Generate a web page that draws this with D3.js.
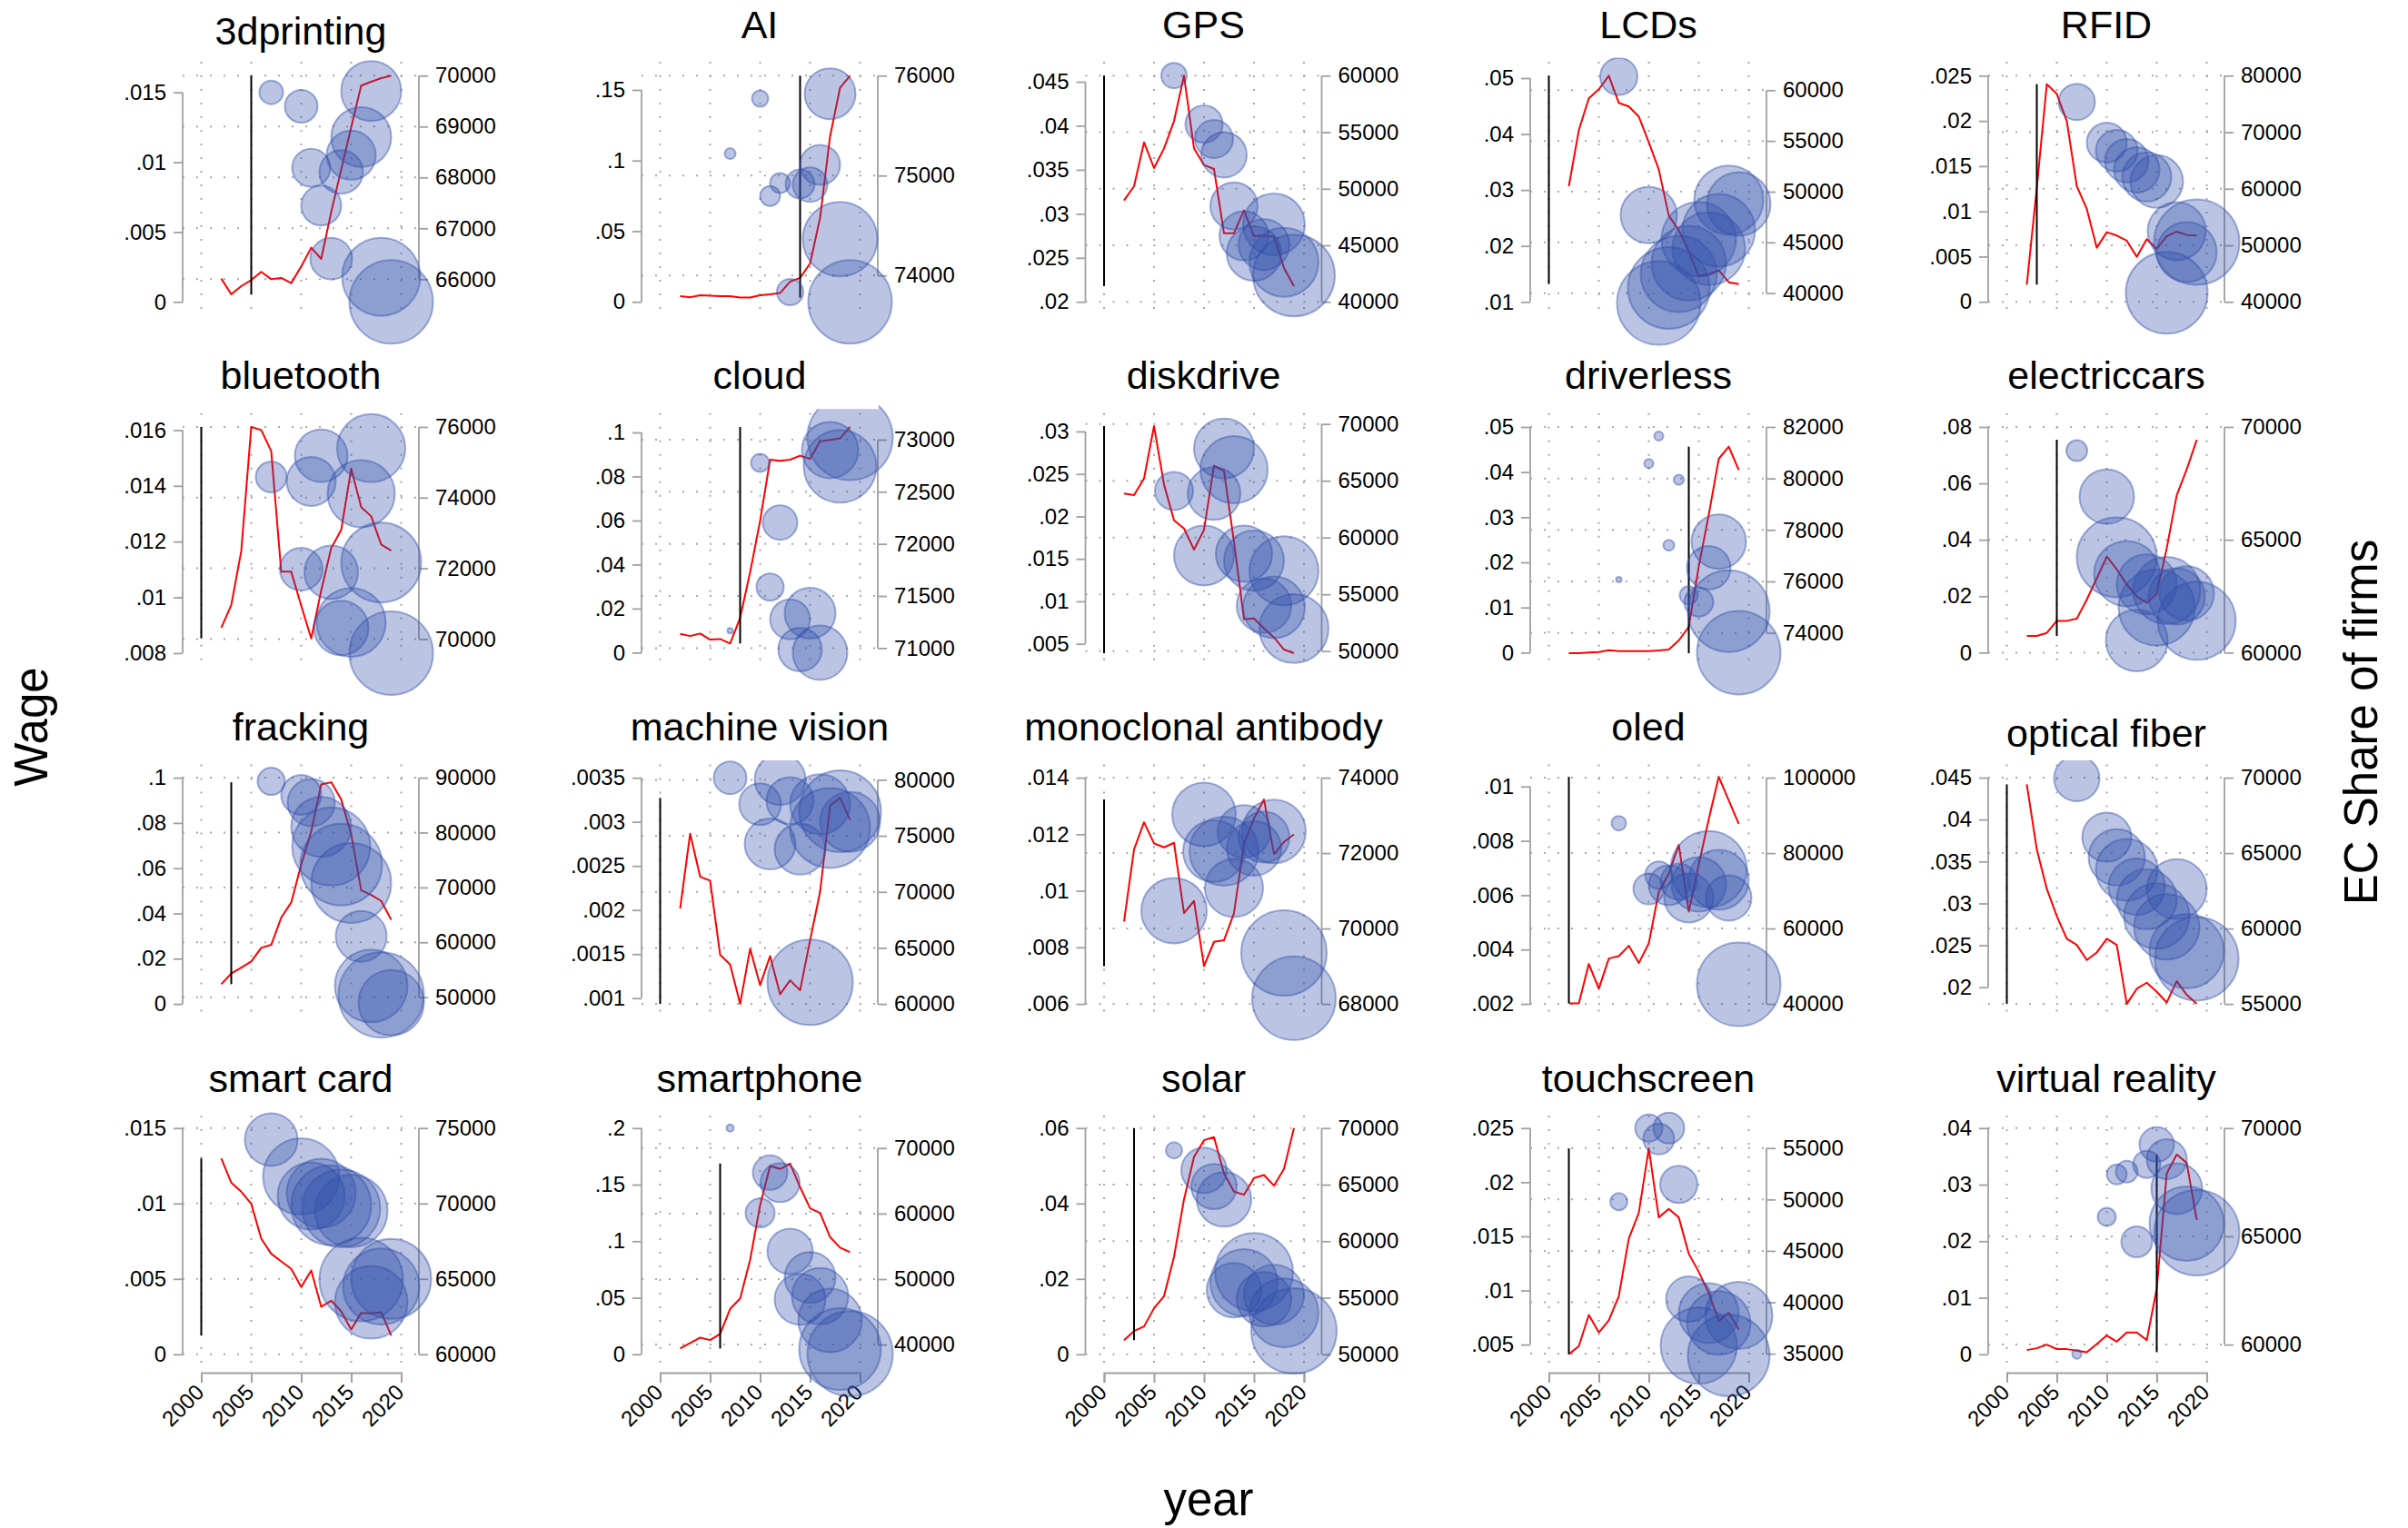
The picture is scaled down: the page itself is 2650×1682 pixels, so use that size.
<!DOCTYPE html>
<html>
<head>
<meta charset="utf-8">
<script src="https://cdn.jsdelivr.net/npm/d3@7"></script>
<style>
  body { margin: 0; background: #fff; }
  text { font-family: "Liberation Sans", Arial, Helvetica, sans-serif; }
</style>
</head>
<body>
<svg id="chart"></svg>
<script>
// ---- data ----
const techs = ['3dprinting', 'AI', 'GPS', 'LCDs', 'RFID',
  'bluetooth', 'cloud', 'diskdrive', 'driverless', 'electriccars',
  'fracking', 'machine vision', 'monoclonal antibody', 'oled', 'optical fiber',
  'smart card', 'smartphone', 'solar', 'touchscreen', 'virtual reality'];

const lineYears = [2002, 2003, 2004, 2005, 2006, 2007, 2008, 2009, 2010,
  2011, 2012, 2013, 2014, 2015, 2016, 2017, 2018, 2019];
const bubbleYears = [2007, 2010, 2011, 2012, 2013, 2014, 2015, 2016, 2017, 2018, 2019];
const xTicks = [2000, 2005, 2010, 2015, 2020];

// year of the vertical marker line, per technology
const eventYear = [2005, 2014, 2000, 2000, 2003, 2000, 2008, 2000, 2014, 2005,
  2003, 2000, 2000, 2002, 2000, 2000, 2006, 2003, 2002, 2015];

// red line (right axis), 2002-2019
const lineValues = [
  [66012, 65703, 65863, 65982, 66143, 66000, 66024, 65923, 66250, 66619, 66399, 67321, 68155, 68988, 69804, 69881, 69952, 70000],
  [73794, 73782, 73803, 73797, 73794, 73794, 73779, 73779, 73803, 73812, 73824, 73939, 73976, 74121, 74576, 75394, 75879, 76000],
  [48968, 50226, 54108, 51832, 53572, 55982, 59998, 53572, 52100, 51752, 46077, 46077, 48085, 45809, 45863, 45756, 42998, 41392],
  [50537, 56059, 59194, 60089, 61432, 58746, 58388, 57403, 54866, 52179, 47642, 46209, 44119, 41672, 41881, 42239, 41075, 40896],
  [43052, 60188, 78502, 76789, 71969, 60456, 56440, 49585, 52317, 51727, 50817, 47979, 51085, 49371, 51620, 52424, 51835, 51781],
  [70317, 70960, 72486, 76000, 75914, 75314, 71903, 71903, 70943, 70017, 71371, 72571, 73086, 74817, 73729, 73471, 72674, 72503],
  [71137, 71116, 71140, 71081, 71087, 71044, 71291, 71727, 72221, 72808, 72797, 72808, 72846, 72817, 72985, 72997, 73012, 73122],
  [63867, 63733, 65200, 69813, 64667, 61520, 60800, 58933, 60667, 66320, 65867, 59600, 52800, 52880, 52000, 51200, 50133, 49813],
  [73212, 73212, 73235, 73259, 73329, 73294, 73294, 73294, 73294, 73318, 73353, 73706, 74235, 76588, 78588, 80765, 81235, 80329],
  [60738, 60738, 60872, 61409, 61409, 61503, 62349, 63288, 64254, 63691, 63020, 62483, 62214, 62617, 64630, 66978, 68119, 69434],
  [52372, 54303, 55407, 56510, 58993, 59544, 64510, 67268, 74164, 80233, 88785, 89171, 86026, 79681, 69475, 68647, 67544, 64124],
  [68514, 75191, 71353, 71001, 64379, 63514, 60000, 64919, 61676, 64271, 60865, 62108, 61216, 65676, 70001, 77705, 78380, 76434],
  [70185, 72096, 72819, 72257, 72153, 72273, 70410, 70731, 69004, 69647, 69687, 70410, 72257, 72916, 73422, 71976, 72297, 72498],
  [40161, 40161, 50602, 44016, 52048, 52691, 55421, 50843, 56064, 69718, 74538, 82168, 64498, 76947, 88995, 100240, 93975, 87790],
  [69558, 65241, 62630, 60823, 59317, 58916, 57912, 58414, 59317, 58916, 55000, 56004, 56406, 55803, 55100, 56506, 55602, 55000],
  [72992, 71385, 70783, 69980, 67671, 66667, 66164, 65663, 64458, 65562, 63153, 63554, 62851, 61647, 62751, 62711, 62791, 61245],
  [39399, 40231, 41063, 40693, 41618, 45455, 47027, 52944, 61266, 67276, 66813, 67646, 64040, 60804, 60110, 56412, 54794, 54100],
  [51258, 52061, 52463, 54069, 55140, 58620, 63706, 67454, 68926, 69194, 65982, 64375, 64108, 65580, 65848, 64911, 66383, 69997],
  [34941, 35736, 38770, 37062, 38240, 40596, 46193, 48697, 54971, 48255, 49080, 48255, 44720, 42953, 40891, 38181, 38976, 37356],
  [59748, 59832, 60000, 59790, 59790, 59720, 59650, 60028, 60420, 60140, 60559, 60559, 60210, 62587, 67902, 68783, 68392, 65762]
];

// bubbles (left axis), at bubbleYears
const bubbleValues = [
  [.0150, .0140, .0096, .0069, .0031, .0093, .0105, .0118, .0151, .0018, .0000],
  [.1049, .1438, .0749, .0841, .0069, .0835, .0830, .0970, .1473, .0444, .0000],
  [.0457, .0402, .0385, .0367, .0309, .0275, .0255, .0265, .0288, .0245, .0230],
  [.0503, .0255, .0098, .0125, .0150, .0169, .0212, .0195, .0228, .0282, .0275],
  [.0221, .0176, .0167, .0156, .0146, .0138, .0133, .0010, .0078, .0055, .0066],
  [.01432, .01101, .01416, .01508, .01090, .0089, .0091, .01372, .01535, .01125, .0080],
  [.0100, .0862, .0298, .0591, .0151, .0014, .0179, .0000, .0920, .0846, .0977],
  [.0230, .0154, .0227, .0280, .0255, .0156, .0148, .0095, .0093, .0136, .0068],
  [.0162, .0419, .0480, .0238, .0383, .0127, .0112, .0188, .0246, .0092, .0000],
  [.0716, .0553, .0338, .0280, .0043, .0242, .0160, .0220, .0199, .0210, .0113],
  [.0984, .0924, .0890, .0783, .0696, .0616, .0535, .0299, .0080, .0040, .0005],
  [.00350, .00320, .00275, .00348, .00324, .00269, .00118, .00320, .00293, .00312, .00300],
  [.0093, .0127, .0114, .0114, .0101, .0121, .0115, .0119, .0121, .0078, .0062],
  [.00865, .00623, .00674, .00637, .00650, .00590, .00640, .00696, .00657, .00590, .00272],
  [.0449, .0379, .0355, .0340, .0320, .0305, .0285, .0272, .0317, .0243, .0234],
  [.01424, .01179, .01050, .01068, .00988, .00968, .0095, .00496, .00345, .0045, .0050],
  [.2000, .1250, .1606, .1518, .0910, .0487, .0680, .0514, .0300, .0046, .0005],
  [.0541, .0488, .0445, .0411, .0170, .0190, .0218, .0146, .0158, .0110, .0062],
  [.0182, .0250, .0240, .0250, .0198, .0092, .0049, .0079, .0070, .0040, .0077],
  [.0000, .0243, .0318, .0323, .0199, .0336, .0371, .0345, .0293, .0231, .0215]
];

// bubble weights
const bubbleWeights = [
  [18.8, 36, 49, 53.8, 58.8, 64, 81, 121, 121, 205.4, 235.1],
  [4, 9, 13.4, 13.4, 23.4, 28.4, 40.1, 53.8, 87.1, 186.8, 235.1],
  [21.8, 46.7, 49, 69.4, 75.1, 81, 100, 87.1, 128.4, 160.4, 225],
  [46.7, 106.8, 235.1, 225, 196, 186.8, 186.8, 177.8, 177.8, 160.4, 136.1],
  [44.4, 53.8, 58.8, 64, 69.4, 81, 93.4, 225, 113.8, 121, 245.4],
  [32.1, 61.4, 81, 93.4, 96.7, 100, 160.4, 152.1, 156.3, 215.1, 235.1],
  [1, 11.1, 25, 40.1, 53.8, 64, 87.1, 100, 106.8, 177.8, 245.4],
  [49, 121, 93.4, 121, 152.1, 106.8, 121, 100, 128.4, 160.4, 160.4],
  [1, 2.8, 2.8, 4, 3.4, 11.1, 28.4, 64, 100, 225, 235.1],
  [14.7, 100, 215.1, 144, 128.4, 121, 196, 152.1, 106.8, 100, 205.4],
  [25, 53.8, 75.1, 121, 205.4, 225, 215.1, 87.1, 177.8, 245.4, 144],
  [36, 58.8, 87.1, 87.1, 75.1, 87.1, 245.4, 121, 215.1, 225, 121],
  [144, 136.1, 128.4, 160.4, 113.8, 93.4, 100, 87.1, 136.1, 245.4, 235.1],
  [7.1, 32.1, 25, 53.8, 44.4, 81, 100, 196, 121, 69.4, 235.1],
  [69.4, 81, 106.8, 128.4, 106.8, 121, 144, 144, 121, 186.8, 235.1],
  [93.4, 196, 152.1, 160.4, 215.1, 205.4, 177.8, 235.1, 177.8, 196, 215.1],
  [1.8, 28.4, 40.1, 51.4, 69.4, 87.1, 87.1, 106.8, 136.1, 225, 245.4],
  [9, 69.4, 69.4, 100, 100, 152.1, 205.4, 100, 121, 160.4, 245.4],
  [10, 25, 32.1, 32.1, 46.7, 69.4, 196, 121, 136.1, 225, 152.1],
  [2.8, 11.1, 13.4, 16, 32.1, 25, 40.1, 53.8, 87.1, 186.8, 245.4]
];

// axis ticks and ranges
const leftTicks = [
  [0, .005, .01, .015], [0, .05, .1, .15], [.02, .025, .03, .035, .04, .045],
  [.01, .02, .03, .04, .05], [0, .005, .01, .015, .02, .025],
  [.008, .01, .012, .014, .016], [0, .02, .04, .06, .08, .1], [.005, .01, .015, .02, .025, .03],
  [0, .01, .02, .03, .04, .05], [0, .02, .04, .06, .08],
  [0, .02, .04, .06, .08, .1], [.001, .0015, .002, .0025, .003, .0035], [.006, .008, .01, .012, .014],
  [.002, .004, .006, .008, .01], [.02, .025, .03, .035, .04, .045],
  [0, .005, .01, .015], [0, .05, .1, .15, .2], [0, .02, .04, .06],
  [.005, .01, .015, .02, .025], [0, .01, .02, .03, .04]
];
const rightTicks = [
  [66000, 67000, 68000, 69000, 70000], [74000, 75000, 76000], [40000, 45000, 50000, 55000, 60000],
  [40000, 45000, 50000, 55000, 60000], [40000, 50000, 60000, 70000, 80000],
  [70000, 72000, 74000, 76000], [71000, 71500, 72000, 72500, 73000], [50000, 55000, 60000, 65000, 70000],
  [74000, 76000, 78000, 80000, 82000], [60000, 65000, 70000],
  [50000, 60000, 70000, 80000, 90000], [60000, 65000, 70000, 75000, 80000], [68000, 70000, 72000, 74000],
  [40000, 60000, 80000, 100000], [55000, 60000, 65000, 70000],
  [60000, 65000, 70000, 75000], [40000, 50000, 60000, 70000], [50000, 55000, 60000, 65000, 70000],
  [35000, 40000, 45000, 50000, 55000], [60000, 65000, 70000]
];
const leftRange = [
  [-0.00115, 0.01719], [-0.0114, 0.1699], [0.01817, 0.04727], [0.00713, 0.05292], [-0.00178, 0.02654],
  [0.00742, 0.01661], [-0.00755, 0.1088], [0.002005, 0.03217], [-0.00368, 0.05308], [-0.0059, 0.08493],
  [-0.00735, 0.1059], [0.000746, 0.003652], [0.005412, 0.014472], [0.001388, 0.010816], [0.01603, 0.04659],
  [-0.00116, 0.015825], [-0.0155, 0.211], [-0.00465, 0.0633], [0.002483, 0.02615], [-0.0031, 0.0422]
];
const rightRange = [
  [65238, 70273], [73575, 76139], [38578, 61229], [37556, 62802], [37157, 82458],
  [69144, 76393], [70797, 73255], [48400, 70960], [72588, 82540], [59263, 70616],
  [45745, 92434], [58517, 81378], [67559, 74354], [35590, 103542], [53898, 70886],
  [58837, 75825], [35839, 74951], [48450, 71100], [33233, 58154], [58742, 70575]
];

// ---- layout ----
const W = 2650, H = 1682;
const colLeft = [201, 706, 1194.5, 1684, 2188];
const plotW = 260, plotH = 282;
const rowTop0 = 68, rowStep = 386.7;
const titleDrop = { '3dprinting': 7, 'optical fiber': 7 };
const gridColor = '#a8a8a8', axisColor = '#a0a0a0';

const svg = d3.select('#chart').attr('width', W).attr('height', H);
svg.append('rect').attr('width', W).attr('height', H).attr('fill', '#fff');

const rScale = d3.scaleSqrt().domain([0, 100]).range([0, 30]);
const leftFmt = d => d === 0 ? '0' : String(+d.toPrecision(6)).replace(/^0\./, '.');

techs.forEach(function(name, i) {
  const col = i % 5, row = Math.floor(i / 5);
  const left = colLeft[col], top = rowTop0 + rowStep * row;
  const right = left + plotW, bottom = top + plotH;

  const x = d3.scaleLinear().domain([2000, 2020]).range([left + 20.5, left + 240.5]);
  const yL = d3.scaleLinear().domain(leftRange[i]).range([bottom, top]);
  const yR = d3.scaleLinear().domain(rightRange[i]).range([bottom, top]);

  const g = svg.append('g');

  // grid
  g.selectAll('.vg').data(xTicks).enter().append('line')
    .attr('x1', d => x(d)).attr('x2', d => x(d))
    .attr('y1', top).attr('y2', bottom)
    .attr('stroke', gridColor).attr('stroke-width', 2).attr('stroke-dasharray', '2 13');
  g.selectAll('.hg').data(rightTicks[i]).enter().append('line')
    .attr('x1', left).attr('x2', right)
    .attr('y1', d => yR(d)).attr('y2', d => yR(d))
    .attr('stroke', gridColor).attr('stroke-width', 2).attr('stroke-dasharray', '2 13');

  // left axis
  const la = g.append('g').attr('transform', 'translate(' + left + ',0)')
    .call(d3.axisLeft(yL).tickValues(leftTicks[i]).tickSize(10).tickSizeOuter(0)
      .tickPadding(8).tickFormat(leftFmt));
  // right axis
  const ra = g.append('g').attr('transform', 'translate(' + right + ',0)')
    .call(d3.axisRight(yR).tickValues(rightTicks[i]).tickSize(10).tickSizeOuter(0)
      .tickPadding(8).tickFormat(d3.format('d')));
  [la, ra].forEach(function(a) {
    a.select('.domain').remove();
    a.selectAll('line').attr('stroke', axisColor).attr('stroke-width', 1.8);
    a.selectAll('text').attr('fill', '#000').style('font-size', '24px');
  });
  const lt = leftTicks[i], rt = rightTicks[i];
  g.append('line').attr('x1', left).attr('x2', left)
    .attr('y1', yL(lt[0])).attr('y2', yL(lt[lt.length - 1]))
    .attr('stroke', axisColor).attr('stroke-width', 1.8);
  g.append('line').attr('x1', right).attr('x2', right)
    .attr('y1', yR(rt[0])).attr('y2', yR(rt[rt.length - 1]))
    .attr('stroke', axisColor).attr('stroke-width', 1.8);

  // bottom axis only on last row
  if (row === 3) {
    const xa = g.append('g').attr('transform', 'translate(0,' + (bottom + 1) + ')')
      .call(d3.axisBottom(x).tickValues(xTicks).tickSize(11).tickFormat(d3.format('d')));
    xa.selectAll('path, line').attr('stroke', axisColor).attr('stroke-width', 2);
    xa.selectAll('text')
      .attr('x', 0).attr('y', 0).attr('dy', 0)
      .attr('transform', 'translate(4,23) rotate(-45)')
      .style('text-anchor', 'end').style('font-size', '24px').attr('fill', '#000');
  }

  // red line
  const pts = lineYears.map((yr, k) => [yr, lineValues[i][k]]);
  const line = d3.line().x(d => x(d[0])).y(d => yR(d[1]));
  g.append('path').datum(pts).attr('d', line)
    .attr('fill', 'none').attr('stroke', '#ff0000').attr('stroke-width', 2)
    .attr('stroke-linejoin', 'round');

  // vertical marker spanning the line's range
  const ext = d3.extent(lineValues[i]);
  g.append('line')
    .attr('x1', x(eventYear[i])).attr('x2', x(eventYear[i]))
    .attr('y1', yR(ext[0])).attr('y2', yR(ext[1]))
    .attr('stroke', '#000').attr('stroke-width', 2);

  // bubbles, clipped away from the title box
  const cid = 'clip' + i;
  const cp = svg.append('clipPath').attr('id', cid);
  cp.append('rect').attr('x', left - 200).attr('y', top - 4.5).attr('width', plotW + 400).attr('height', 400);
  cp.append('rect').attr('x', right + 1).attr('y', top - 80).attr('width', 200).attr('height', 480);
  const bg = g.append('g').attr('clip-path', 'url(#' + cid + ')');
  const bub = bubbleYears.map((yr, k) => ({ yr: yr, v: bubbleValues[i][k], w: bubbleWeights[i][k] }));
  bg.selectAll('circle').data(bub).enter().append('circle')
    .attr('cx', d => x(d.yr)).attr('cy', d => yL(d.v)).attr('r', d => rScale(d.w))
    .attr('fill', 'rgba(50,80,170,0.33)')
    .attr('stroke', 'rgba(50,80,170,0.45)').attr('stroke-width', 2);

  // title
  g.append('text')
    .attr('x', left + plotW / 2).attr('y', top - 26.5 + (titleDrop[name] || 0))
    .attr('text-anchor', 'middle').style('font-size', '43px').attr('fill', '#000')
    .text(name);
});

// overall axis titles
svg.append('text').attr('transform', 'translate(52,800) rotate(-90)')
  .attr('text-anchor', 'middle').style('font-size', '51px').text('Wage');
svg.append('text').attr('transform', 'translate(2616,795) rotate(-90)')
  .attr('text-anchor', 'middle').style('font-size', '51px').text('EC Share of firms');
svg.append('text').attr('x', 1330).attr('y', 1668)
  .attr('text-anchor', 'middle').style('font-size', '51px').text('year');
</script>
</body>
</html>
